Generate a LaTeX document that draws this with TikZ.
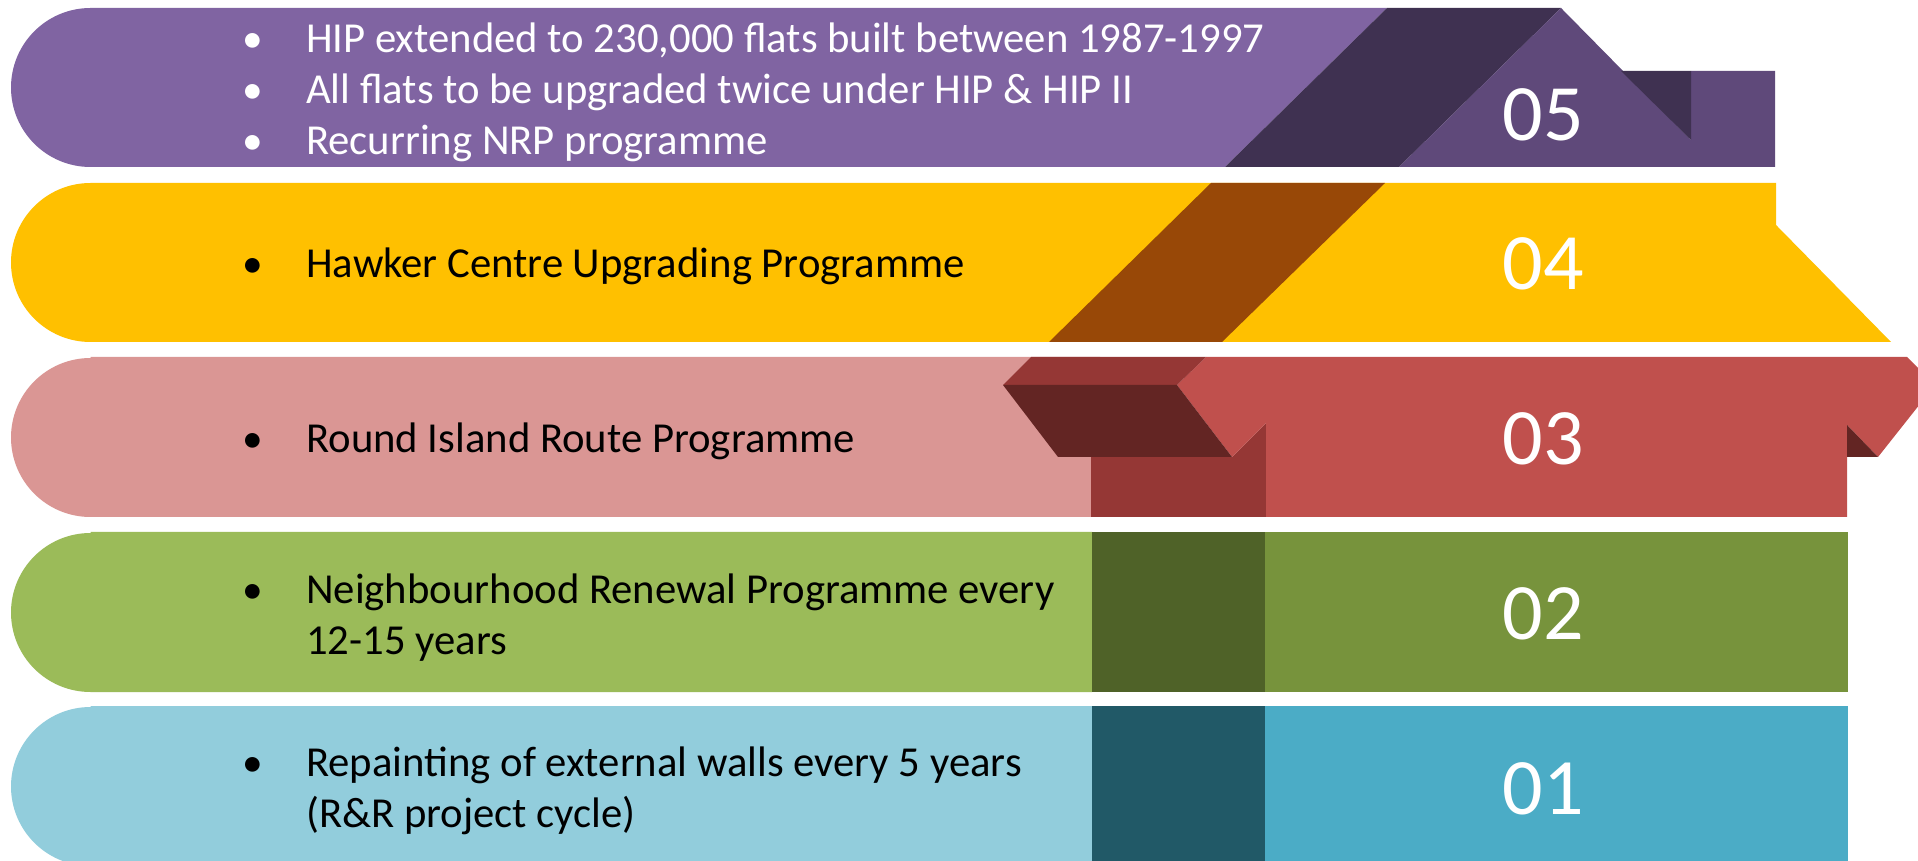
\documentclass[tikz,border=0pt]{standalone}
\usepackage{fontspec}
\setmainfont{Carlito}
\definecolor{purpleA}{HTML}{8064A2}
\definecolor{purpleB}{HTML}{5F497A}
\definecolor{purpleC}{HTML}{3F3151}
\definecolor{goldA}{HTML}{FFC000}
\definecolor{goldC}{HTML}{984807}
\definecolor{redA}{HTML}{DA9694}
\definecolor{redB}{HTML}{C0504D}
\definecolor{redM}{HTML}{953735}
\definecolor{redC}{HTML}{632523}
\definecolor{greenA}{HTML}{9BBB59}
\definecolor{greenB}{HTML}{77933C}
\definecolor{greenC}{HTML}{4F6228}
\definecolor{blueA}{HTML}{92CDDC}
\definecolor{blueB}{HTML}{4BACC6}
\definecolor{blueC}{HTML}{215967}
\begin{document}
\begin{tikzpicture}[x=1pt,y=1pt,
  bandtext/.style={anchor=base west, inner sep=0pt, font=\fontsize{42.7}{51}\selectfont},
  bulletdot/.style={anchor=base, inner sep=0pt, font=\fontsize{41.5}{51}\selectfont},
  stepnum/.style={inner sep=0pt, text=white, font=\fontsize{80}{96}\selectfont},
]
\useasboundingbox (0,0) rectangle (1918,860);
\clip (0,0) rectangle (1918,860);

% ---------- 05 : purple house ----------
\fill[purpleA] (90.5,852) -- (1387,852) -- (1225,693) -- (90.5,693)
  arc[start angle=270, end angle=90, radius=79.5] -- cycle;
\fill[purpleC] (1387,852) -- (1561,852) -- (1399,693) -- (1225,693) -- cycle;
\fill[purpleB] (1399,693) -- (1561,852) -- (1691,720) -- (1691,789)
  -- (1775,789) -- (1775,693) -- cycle;
\fill[purpleC] (1621,789) -- (1691,789) -- (1691,720) -- cycle;

% ---------- 04 : gold band ----------
\fill[goldA] (90.5,677) -- (1776,677) -- (1776,635) -- (1891,518) -- (90.5,518)
  arc[start angle=270, end angle=90, radius=79.5] -- cycle;
\fill[goldC] (1211,677) -- (1385,677) -- (1222,518) -- (1049,518) -- cycle;

% ---------- 03 : red band ----------
\fill[redA] (90.5,503) -- (1100,503) -- (1100,343) -- (90.5,343)
  arc[start angle=270, end angle=90, radius=79.5] -- cycle;
\fill[redM] (1091,343) -- (1091,403) -- (1232,403) -- (1266,437) -- (1266,343) -- cycle;
\fill[redB] (1206,503) -- (1907,503) -- (1935,475) -- (1878,403) -- (1847,435)
  -- (1847,343) -- (1266,343) -- (1266,437) -- (1232,403) -- (1177,475) -- cycle;
\fill[redC] (1847,435) -- (1847,403) -- (1878,403) -- cycle;
\fill[redM] (1031,503) -- (1206,503) -- (1177,475) -- (1003,475) -- cycle;
\fill[redC] (1003,475) -- (1177,475) -- (1232,403) -- (1058,403) -- cycle;

% ---------- 02 : green band ----------
\fill[greenA] (90.5,328) -- (1092,328) -- (1092,168) -- (90.5,168)
  arc[start angle=270, end angle=90, radius=79.5] -- cycle;
\fill[greenC] (1092,168) rectangle (1265,328);
\fill[greenB] (1265,168) rectangle (1848,328);

% ---------- 01 : blue band ----------
\fill[blueA] (90.5,154) -- (1092,154) -- (1092,-6) -- (90.5,-6)
  arc[start angle=270, end angle=90, radius=79.5] -- cycle;
\fill[blueC] (1092,-6) rectangle (1265,154);
\fill[blueB] (1265,-6) rectangle (1848,154);

% ---------- texts ----------
\begin{scope}[text=white]
\node[bulletdot] (b5a) at (253,807) {\textbullet};
\node[bandtext]  (t5a) at (306,807) {HIP extended to 230,000 flats built between 1987-1997};
\node[bulletdot] (b5b) at (253,756) {\textbullet};
\node[bandtext]  (t5b) at (306,756) {All flats to be upgraded twice under HIP \& HIP II};
\node[bulletdot] (b5c) at (253,705) {\textbullet};
\node[bandtext]  (t5c) at (306,705) {Recurring NRP programme};
\end{scope}

\node[bulletdot] (b4) at (253,582) {\textbullet};
\node[bandtext]  (t4) at (306,582) {Hawker Centre Upgrading Programme};

\node[bulletdot] (b3) at (253,407.5) {\textbullet};
\node[bandtext]  (t3) at (306,407.5) {Round Island Route Programme};

\node[bulletdot] (b2) at (253,257) {\textbullet};
\node[bandtext]  (t2a) at (306,257) {Neighbourhood Renewal Programme every};
\node[bandtext]  (t2b) at (306,206) {12-15 years};

\node[bulletdot] (b1) at (253,84) {\textbullet};
\node[bandtext]  (t1a) at (306,84) {Repainting of external walls every 5 years};
\node[bandtext]  (t1b) at (306,33) {(R\&R project cycle)};

% ---------- step numbers ----------
\node[stepnum] (n5) at (1543,745.5) {05};
\node[stepnum] (n4) at (1543,596) {04};
\node[stepnum] (n3) at (1543,421.5) {03};
\node[stepnum] (n2) at (1543,246) {02};
\node[stepnum] (n1) at (1543,71.5) {01};
\end{tikzpicture}
\end{document}
